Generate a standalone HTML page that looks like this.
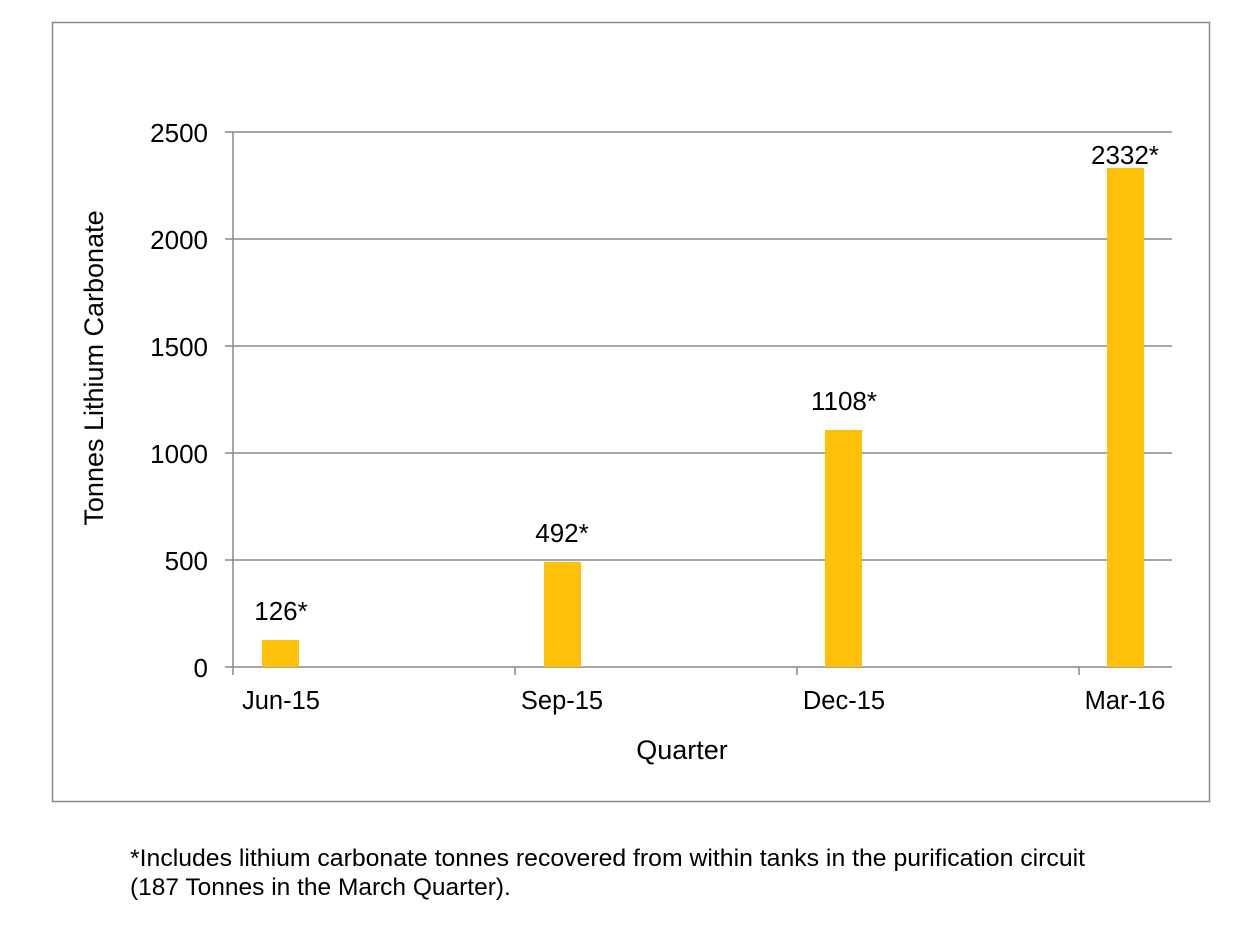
<!DOCTYPE html>
<html><head><style>body{margin:0;background:#fff}</style></head><body>
<svg width="1236" height="922" xmlns="http://www.w3.org/2000/svg" font-family="Liberation Sans, sans-serif">
<rect x="52.5" y="22.5" width="1157" height="779" fill="#fff" stroke="#888" stroke-width="1.5"/>
<g stroke="#888" stroke-width="1.5">
<line x1="225" y1="132" x2="1172" y2="132"/>
<line x1="225" y1="239" x2="1172" y2="239"/>
<line x1="225" y1="346" x2="1172" y2="346"/>
<line x1="225" y1="453" x2="1172" y2="453"/>
<line x1="225" y1="560" x2="1172" y2="560"/>
<line x1="225" y1="667" x2="1172" y2="667"/>
<line x1="233" y1="132" x2="233" y2="675"/>
<line x1="515" y1="667" x2="515" y2="675"/>
<line x1="797" y1="667" x2="797" y2="675"/>
<line x1="1079" y1="667" x2="1079" y2="675"/>
</g>
<g fill="#FFC00A">
<rect x="262" y="640" width="37" height="27"/>
<rect x="544" y="562" width="37" height="105"/>
<rect x="825" y="430" width="37" height="237"/>
<rect x="1107" y="168" width="37" height="499"/>
</g>
<g font-size="26" text-anchor="end" fill="#000">
<text x="208" y="142">2500</text><text x="208" y="249">2000</text><text x="208" y="356">1500</text>
<text x="208" y="463">1000</text><text x="208" y="570">500</text><text x="208" y="677">0</text>
</g>
<g font-size="25.5" text-anchor="middle" fill="#000">
<text x="281" y="709">Jun-15</text><text x="562" y="709">Sep-15</text><text x="844" y="709">Dec-15</text><text x="1125" y="709">Mar-16</text>
<text x="281" y="620" font-size="26">126*</text><text x="562" y="542" font-size="26">492*</text><text x="844" y="410" font-size="26">1108*</text><text x="1125" y="164" font-size="26">2332*</text>
<text x="682" y="759" font-size="27">Quarter</text>
<text transform="translate(103,368) rotate(-90)" font-size="27">Tonnes Lithium Carbonate</text>
</g>
<g font-size="24.5" fill="#000">
<text x="130" y="866" textLength="955" lengthAdjust="spacingAndGlyphs">*Includes lithium carbonate tonnes recovered from within tanks in the purification circuit</text>
<text x="130" y="895">(187 Tonnes in the March Quarter).</text>
</g>
</svg>
</body></html>
